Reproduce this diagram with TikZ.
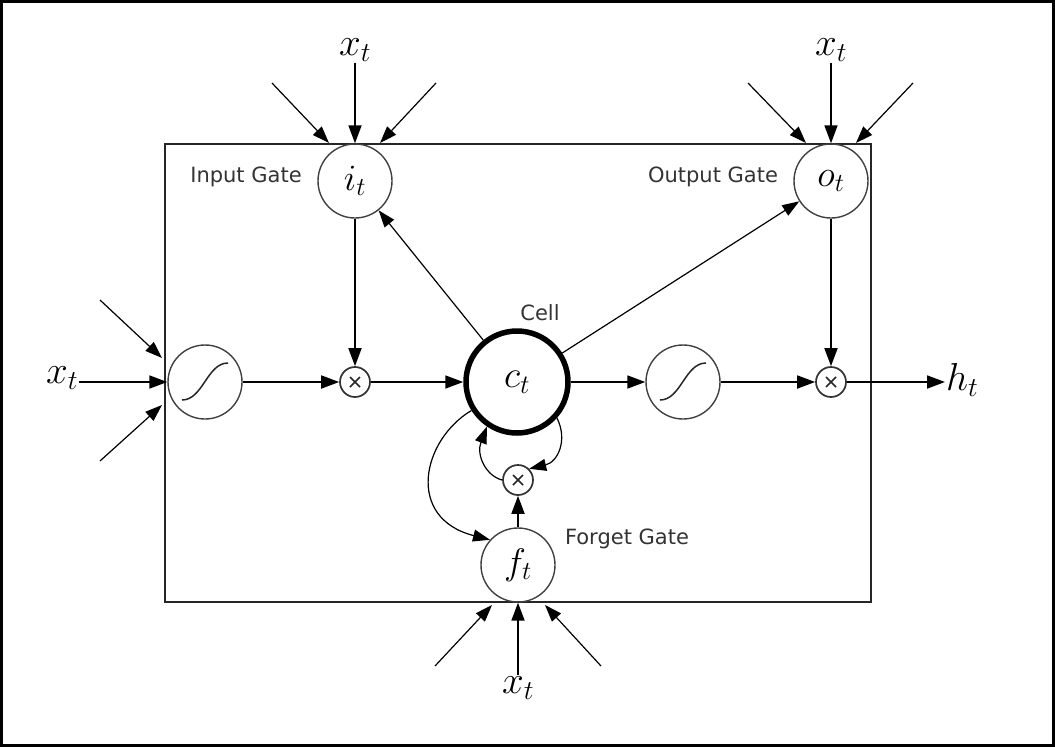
\RequirePackage{fix-cm}
\documentclass[tikz,border=0pt]{standalone}
\usepackage{fontspec}
\newfontfamily\labfont{DejaVu Sans}
\usetikzlibrary{arrows.meta}
\begin{document}
\begin{tikzpicture}[x=1pt,y=-1pt,
  arr/.style={line width=1.8pt,-{Triangle[length=18pt,width=13pt]}},
  thinarr/.style={line width=1.2pt,-{Triangle[length=17pt,width=12pt]}},
  gate/.style={circle,draw=black!75,line width=1.4pt,minimum size=74pt,inner sep=0pt,font=\fontsize{37}{40}\selectfont},
  sig/.style={circle,draw=black!75,line width=1.4pt,minimum size=74pt,inner sep=0pt},
  mult/.style={circle,draw=black!80,line width=1.7pt,minimum size=30pt,inner sep=0pt},
  cellnode/.style={circle,draw=black,line width=5.5pt,minimum size=102pt,inner sep=0pt,font=\fontsize{38}{42}\selectfont},
  lab/.style={text=black!80,inner sep=0pt,font=\labfont\fontsize{21}{24}\selectfont},
  var/.style={inner sep=1pt,font=\fontsize{39}{42}\selectfont},
  sigcurve/.style={line width=1.5pt,black!85},
  crossline/.style={line width=1.7pt,black!85},
]
\useasboundingbox (0,0) rectangle (1055,747);
\draw[line width=3pt] (1.5,1.5) rectangle (1053.5,745.5);
\draw[line width=2.3pt,black!85] (165,144) rectangle (871,602);

% main nodes
\node[gate] (i) at (355,181) {$i_t$};
\node[gate] (o) at (831,181) {$o_t$};
\node[gate] (f) at (518,565) {$f_t$};
\node[sig] (s1) at (205,382) {};
\node[sig] (s2) at (683,382) {};
\node[mult] (m1) at (355,382) {};
\node[mult] (m2) at (831,382) {};
\node[mult] (m3) at (518,480) {};
\node[cellnode] (c) at (517,382) {$c_t$};

% multiplication crosses
\foreach \m in {m1,m2,m3}{
  \draw[crossline] ([shift={(-5,-5)}]\m.center) -- ([shift={(5,5)}]\m.center);
  \draw[crossline] ([shift={(-5,5)}]\m.center) -- ([shift={(5,-5)}]\m.center);
}

% sigmoid curves
\draw[sigcurve] ([shift={(-23,18)}]s1.center) .. controls ([shift={(-2,18)}]s1.center) and ([shift={(2,-19)}]s1.center) .. ([shift={(23,-19)}]s1.center);
\draw[sigcurve] ([shift={(-23,18)}]s2.center) .. controls ([shift={(-2,18)}]s2.center) and ([shift={(2,-19)}]s2.center) .. ([shift={(23,-19)}]s2.center);

% labels
\node[lab] (li) at (246,177) {Input Gate};
\node[lab] (lo) at (713,177) {Output Gate};
\node[lab] (lc) at (540,313) {Cell};
\node[lab] (lf) at (627,539) {Forget Gate};

% external inputs
\node[var] (xi) at (355,50) {$x_t$};
\node[var] (xo) at (831,50) {$x_t$};
\node[var] (xl) at (62,378) {$x_t$};
\node[var] (xf) at (518,688) {$x_t$};
\node[var,anchor=west] (h) at (945,380) {$h_t$};

% input gate inputs
\coordinate (ia) at (272,83); \coordinate (iae) at (329,143);
\coordinate (ib) at (436,83); \coordinate (ibe) at (380,143);
\draw[thinarr] (ia) -- (iae);
\draw[thinarr] (ib) -- (ibe);
\draw[arr] (xi.south) -- (i.north);
% output gate inputs
\coordinate (oa) at (748,83); \coordinate (oae) at (806,143);
\coordinate (ob) at (913,83); \coordinate (obe) at (856,143);
\draw[thinarr] (oa) -- (oae);
\draw[thinarr] (ob) -- (obe);
\draw[arr] (xo.south) -- (o.north);
% left inputs
\coordinate (la) at (100,300); \coordinate (lae) at (162,358);
\coordinate (lb) at (100,461); \coordinate (lbe) at (162,405);
\draw[thinarr] (la) -- (lae);
\draw[thinarr] (lb) -- (lbe);
\draw[arr] (xl.east |- s1.west) -- (s1.west);
% forget gate inputs
\coordinate (fa) at (435,666); \coordinate (fae) at (492,605);
\coordinate (fb) at (601,666); \coordinate (fbe) at (545,605);
\draw[thinarr] (fa) -- (fae);
\draw[thinarr] (fb) -- (fbe);
\draw[arr] (xf.north) -- (f.south);

% internal connections
\draw[arr] (s1) -- (m1);
\draw[arr] (i) -- (m1);
\draw[arr] (m1) -- (c);
\draw[thinarr] (c) -- (i);
\draw[thinarr] (c) -- (o);
\draw[arr] (c) -- (s2);
\draw[arr] (s2) -- (m2);
\draw[arr] (o) -- (m2);
\draw[arr] (m2) -- (h.west |- m2.east);
\draw[arr] (f) -- (m3);
\draw[thinarr] (c.212) .. controls (422,440) and (405,518) .. (f.138);
\draw[thinarr] (c.-42) .. controls (568,440) and (558,462) .. (m3.north east);
\draw[thinarr] (m3.west) .. controls (486,476) and (476,455) .. (c.236);
\end{tikzpicture}
\end{document}
